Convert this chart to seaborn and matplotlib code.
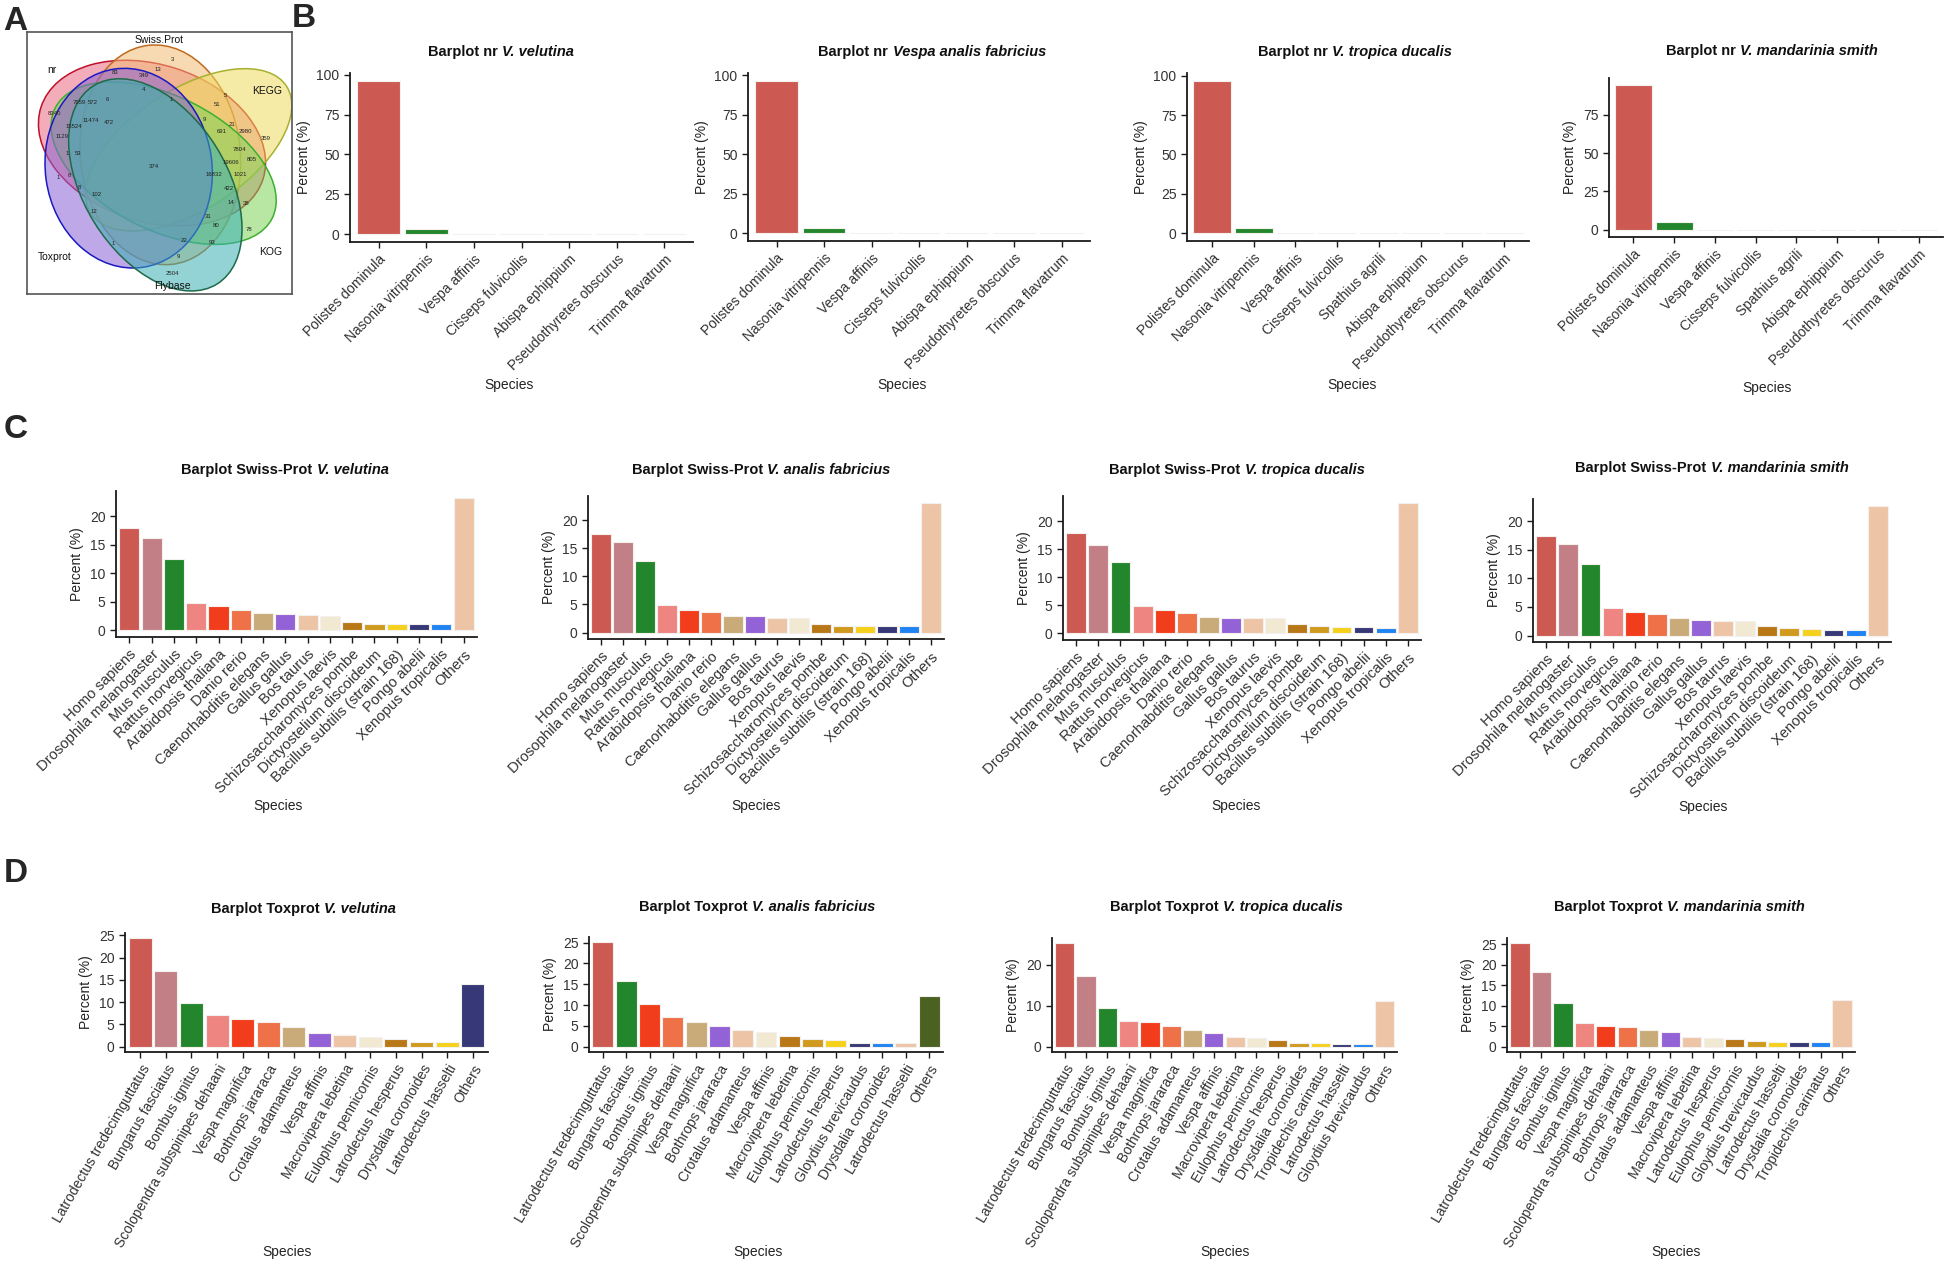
import numpy as np
import matplotlib
matplotlib.use("Agg")
import matplotlib.pyplot as plt
import seaborn as sns
from matplotlib.patches import Ellipse
from matplotlib.colors import to_rgba
from matplotlib.ticker import MultipleLocator

W, H = 1946, 1264

# ---------------- data ----------------
# colours used by the bars
RED = "#CD5A52"; ROSY = "#C27F86"; GREEN = "#23862C"; CORAL = "#EE8580"
REDOR = "#F23D1C"; ORANGE = "#EE7148"; TAN = "#C8AB78"; PURPLE = "#9362D6"
PEACH = "#EEC4A6"; CREAM = "#F1E9D2"; BROWN = "#B97818"; GOLDR = "#CF9A1E"
GOLD = "#F5D11C"; NAVY = "#363878"; BLUE = "#1F83F3"; OLIVE = "#4A6121"

# panel B (nr)
nr_species7 = ["Polistes dominula", "Nasonia vitripennis", "Vespa affinis", "Cisseps fulvicollis",
               "Abispa ephippium", "Pseudothyretes obscurus", "Trimma flavatrum"]
nr_species8 = ["Polistes dominula", "Nasonia vitripennis", "Vespa affinis", "Cisseps fulvicollis",
               "Spathius agrili", "Abispa ephippium", "Pseudothyretes obscurus", "Trimma flavatrum"]
nr_velutina = [96.2, 3.4, 0, 0, 0, 0, 0]
nr_analis = [96.6, 3.2, 0, 0, 0, 0, 0]
nr_tropica = [96.8, 3.4, 0, 0, 0, 0, 0, 0]
nr_mandarinia = [94.3, 5.2, 0, 0, 0, 0, 0, 0]
nr_colors7 = [RED, GREEN, CORAL, REDOR, ORANGE, TAN, PURPLE]
nr_colors8 = [RED, GREEN, CORAL, REDOR, ORANGE, TAN, PURPLE, PEACH]

# panel C (Swiss-Prot)
sp_species = ["Homo sapiens", "Drosophila melanogaster", "Mus musculus", "Rattus norvegicus",
              "Arabidopsis thaliana", "Danio rerio", "Caenorhabditis elegans", "Gallus gallus",
              "Bos taurus", "Xenopus laevis", "Schizosaccharomyces pombe", "Dictyostelium discoideum",
              "Bacillus subtilis (strain 168)", "Pongo abelii", "Xenopus tropicalis", "Others"]
sp_velutina = [17.9, 16.2, 12.6, 4.8, 4.2, 3.6, 3.1, 2.9, 2.7, 2.6, 1.5, 1.2, 1.2, 1.1, 1.1, 23.3]
sp_analis = [17.6, 16.2, 12.7, 4.9, 4.1, 3.7, 3.0, 3.0, 2.6, 2.6, 1.6, 1.2, 1.2, 1.1, 1.1, 23.2]
sp_tropica = [17.9, 15.8, 12.7, 4.8, 4.1, 3.7, 3.0, 2.8, 2.7, 2.7, 1.6, 1.3, 1.2, 1.1, 1.0, 23.3]
sp_mandarinia = [17.5, 16.1, 12.5, 4.9, 4.2, 3.7, 3.0, 2.8, 2.6, 2.5, 1.6, 1.3, 1.1, 1.05, 0.95, 22.8]
sp_colors = [RED, ROSY, GREEN, CORAL, REDOR, ORANGE, TAN, PURPLE, PEACH, CREAM,
             BROWN, GOLDR, GOLD, NAVY, BLUE, PEACH]

# panel D (Toxprot)
tx_species_velutina = ["Latrodectus tredecimguttatus", "Bungarus fasciatus", "Bombus ignitus",
                       "Scolopendra subspinipes dehaani", "Vespa magnifica", "Bothrops jararaca",
                       "Crotalus adamanteus", "Vespa affinis", "Macrovipera lebetina",
                       "Eulophus pennicornis", "Latrodectus hesperus", "Drysdalia coronoides",
                       "Latrodectus hasselti", "Others"]
tx_velutina = [24.3, 17.0, 9.85, 7.0, 6.3, 5.5, 4.4, 3.0, 2.6, 2.2, 1.8, 1.0, 0.97, 14.1]
tx_colors_velutina = [RED, ROSY, GREEN, CORAL, REDOR, ORANGE, TAN, PURPLE, PEACH, CREAM,
                      BROWN, GOLDR, GOLD, NAVY]

tx_species_analis = ["Latrodectus tredecimguttatus", "Bungarus fasciatus", "Bombus ignitus",
                     "Scolopendra subspinipes dehaani", "Vespa magnifica", "Bothrops jararaca",
                     "Crotalus adamanteus", "Vespa affinis", "Macrovipera lebetina",
                     "Eulophus pennicornis", "Latrodectus hesperus", "Gloydius brevicaudus",
                     "Drysdalia coronoides", "Latrodectus hasselti", "Others"]
tx_analis = [25.1, 15.8, 10.35, 7.2, 5.9, 5.1, 4.1, 3.5, 2.5, 1.9, 1.7, 1.0, 0.95, 0.9, 12.2]
tx_colors_analis = [RED, GREEN, REDOR, ORANGE, TAN, PURPLE, PEACH, CREAM, BROWN, GOLDR,
                    GOLD, NAVY, BLUE, PEACH, OLIVE]

tx_species_tropica = ["Latrodectus tredecimguttatus", "Bungarus fasciatus", "Bombus ignitus",
                      "Scolopendra subspinipes dehaani", "Vespa magnifica", "Bothrops jararaca",
                      "Crotalus adamanteus", "Vespa affinis", "Macrovipera lebetina",
                      "Eulophus pennicornis", "Latrodectus hesperus", "Drysdalia coronoides",
                      "Tropidechis carinatus", "Latrodectus hasselti", "Gloydius brevicaudus", "Others"]
tx_tropica = [25.3, 17.2, 9.5, 6.4, 6.1, 5.1, 4.2, 3.3, 2.5, 2.1, 1.6, 1.0, 1.0, 0.8, 0.8, 11.1]

tx_species_mandarinia = ["Latrodectus tredecimguttatus", "Bungarus fasciatus", "Bombus ignitus",
                         "Vespa magnifica", "Scolopendra subspinipes dehaani", "Bothrops jararaca",
                         "Crotalus adamanteus", "Vespa affinis", "Macrovipera lebetina",
                         "Latrodectus hesperus", "Eulophus pennicornis", "Gloydius brevicaudus",
                         "Latrodectus hasselti", "Drysdalia coronoides", "Tropidechis carinatus", "Others"]
tx_mandarinia = [25.2, 18.3, 10.7, 5.9, 5.1, 4.8, 4.0, 3.6, 2.4, 2.1, 1.9, 1.3, 1.2, 1.1, 1.1, 11.5]
tx_colors16 = [RED, ROSY, GREEN, CORAL, REDOR, ORANGE, TAN, PURPLE, PEACH, CREAM,
               BROWN, GOLDR, GOLD, NAVY, BLUE, PEACH]

# panel A (Venn) counts
venn_sets = ["nr", "Swiss.Prot", "KEGG", "KOG", "Toxprot", "Flybase"]
venn_counts = [3, 83, 349, 13, 4, 1, 5, 51, 7659, 572, 6, 8340, 15524, 11474, 472, 9, 21, 691,
               2980, 359, 1129, 1, 53, 7804, 19606, 805, 374, 16832, 1021, 1, 8, 8, 102, 422,
               14, 38, 12, 31, 80, 78, 1, 22, 93, 9, 2504]

# ---------------- layout ----------------
venn_xy = [(517, 178), (345, 218), (430, 228), (473, 210), (430, 268), (512, 298), (675, 287),
           (650, 313), (237, 308), (277, 308), (322, 298), (163, 340), (222, 380), (270, 362),
           (325, 368), (612, 360), (695, 375), (664, 396), (735, 394), (795, 415), (185, 410),
           (200, 462), (233, 462), (717, 449), (693, 489), (755, 480), (460, 500), (640, 523),
           (720, 523), (175, 532), (207, 528), (238, 562), (288, 585), (685, 565), (693, 608),
           (737, 610), (280, 635), (625, 650), (646, 677), (745, 690), (340, 730), (552, 723),
           (635, 727), (535, 770), (515, 822)]
venn_label_xy = [(155, 210), (477, 120), (800, 275), (810, 755), (162, 772), (517, 857)]
venn_fill = ["#EA6A82", "#F2BC74", "#EEDB5E", "#7ED458", "#8A62D4", "#3AAFB4"]
venn_edge = ["#C0102A", "#C06A20", "#A8B030", "#3CB030", "#1A1AC0", "#1E6A4A"]
venn_shape = [((455, 430), 700, 470, 18), ((480, 465), 480, 660, -6),
              ((565, 450), 700, 360, -33), ((490, 490), 730, 400, 27),
              ((385, 505), 500, 600, -8), ((465, 555), 700, 430, 58)]

# species-label centres (px) under each panel
sp_lab_b = [(509, 385), (902, 385), (1352, 385), (1767, 388)]
sp_lab_c = [(278, 806), (756, 806), (1236, 806), (1703, 807)]
sp_lab_d = [(287, 1252), (758, 1252), (1225, 1252), (1676, 1252)]

sns.set_style("ticks")
plt.rcParams["font.family"] = ["Liberation Sans", "DejaVu Sans"]

fig = plt.figure(figsize=(W / 100, H / 100), dpi=100)


def rect(l, r, t, b):
    return [l / W, 1 - b / H, (r - l) / W, (b - t) / H]


def mixed_title(cx, cy, plain, ital, size=10.5):
    t1 = fig.text(0, 0, plain, fontsize=size, fontweight="bold", color="#111111",
                  ha="left", va="center")
    t2 = fig.text(0, 0, ital, fontsize=size, fontweight="bold", fontstyle="italic",
                  color="#111111", ha="left", va="center")
    rend = fig.canvas.get_renderer()
    w1 = t1.get_window_extent(rend).width
    w2 = t2.get_window_extent(rend).width
    gap = size * 1.389 * 0.3
    x0 = cx - (w1 + gap + w2) / 2
    t1.set_position((x0 / W, 1 - cy / H))
    t2.set_position(((x0 + w1 + gap) / W, 1 - cy / H))


def bar_panel(box, species, values, colors, plain, ital, tcenter, lab, rot, step, fs=10):
    l, r, t, b = box
    ax = fig.add_axes(rect(*box))
    sns.barplot(x=species, y=values, hue=species, palette=colors, legend=False,
                saturation=1, width=0.9, edgecolor="#f4f0ee", linewidth=0.8, ax=ax)
    n = len(species)
    top = max(values)
    ax.set_xlim(-0.6, n - 0.4)
    ax.set_ylim(-0.05 * top, 1.05 * top)
    ax.yaxis.set_major_locator(MultipleLocator(step))
    sns.despine(ax=ax)
    for s in ["left", "bottom"]:
        ax.spines[s].set_color("#1a1a1a")
        ax.spines[s].set_linewidth(1.3)
    ax.tick_params(axis="both", length=4, width=1, color="#1a1a1a",
                   labelsize=fs, labelcolor="#333333")
    ax.tick_params(axis="y", labelsize=10)
    ax.set_xticks(range(n))
    ax.set_xticklabels(species, rotation=rot, ha="right", rotation_mode="anchor")
    ax.set_xlabel("Species", fontsize=10, color="#222222")
    ax.xaxis.label.set_va("center")
    ax.xaxis.set_label_coords((lab[0] - l) / (r - l), -(lab[1] - b) / (b - t))
    ax.set_ylabel("Percent (%)", fontsize=10, color="#222222", labelpad=4)
    mixed_title(tcenter[0], tcenter[1], plain, ital)
    return ax


# ---------------- panel A: Venn ----------------
axv = fig.add_axes(rect(27, 292, 32, 294))
axv.set_xlim(80, 875)
axv.set_ylim(882, 97)
for (c, w, h, a), fc, ec in zip(venn_shape, venn_fill, venn_edge):
    axv.add_patch(Ellipse(c, w, h, angle=a, facecolor=to_rgba(fc, 0.55),
                          edgecolor=ec, linewidth=1.1))
for cnt, (x, y) in zip(venn_counts, venn_xy):
    axv.text(x, y, str(cnt), fontsize=4.3, ha="center", va="center", color="#222222")
for name, (x, y) in zip(venn_sets, venn_label_xy):
    axv.text(x, y, name, fontsize=7.5, ha="center", va="center", color="#111111")
axv.set_xticks([])
axv.set_yticks([])
for s in axv.spines.values():
    s.set_color("#555555")
    s.set_linewidth(1.2)

# ---------------- panel B ----------------
bar_panel((350, 693, 73, 242), nr_species7, nr_velutina, nr_colors7,
          "Barplot nr", "V. velutina", (501, 52), sp_lab_b[0], 45, 25)
bar_panel((748, 1090, 73, 241), nr_species7, nr_analis, nr_colors7,
          "Barplot nr", "Vespa analis fabricius", (932, 52), sp_lab_b[1], 45, 25)
bar_panel((1187, 1529, 73, 241), nr_species8, nr_tropica, nr_colors8,
          "Barplot nr", "V. tropica ducalis", (1355, 52), sp_lab_b[2], 45, 25)
bar_panel((1609, 1943, 78, 237), nr_species8, nr_mandarinia, nr_colors8,
          "Barplot nr", "V. mandarinia smith", (1772, 51), sp_lab_b[3], 45, 25)

# ---------------- panel C ----------------
bar_panel((116, 477, 491, 637), sp_species, sp_velutina, sp_colors,
          "Barplot Swiss-Prot", "V. velutina", (285, 470), sp_lab_c[0], 45, 5, 10.6)
bar_panel((588, 944, 496, 639), sp_species, sp_analis, sp_colors,
          "Barplot Swiss-Prot", "V. analis fabricius", (761, 470), sp_lab_c[1], 45, 5, 10.6)
bar_panel((1063, 1421, 496, 640), sp_species, sp_tropica, sp_colors,
          "Barplot Swiss-Prot", "V. tropica ducalis", (1237, 470), sp_lab_c[2], 45, 5, 10.6)
bar_panel((1533, 1891, 499, 642), sp_species, sp_mandarinia, sp_colors,
          "Barplot Swiss-Prot", "V. mandarinia smith", (1712, 468), sp_lab_c[3], 45, 5, 10.6)

# ---------------- panel D ----------------
bar_panel((125, 488, 933, 1052), tx_species_velutina, tx_velutina, tx_colors_velutina,
          "Barplot Toxprot", "V. velutina", (303, 909), sp_lab_d[0], 60, 5)
bar_panel((589, 943, 937, 1052), tx_species_analis, tx_analis, tx_colors_analis,
          "Barplot Toxprot", "V. analis fabricius", (757, 907), sp_lab_d[1], 60, 5)
bar_panel((1052, 1397, 938, 1052), tx_species_tropica, tx_tropica, tx_colors16,
          "Barplot Toxprot", "V. tropica ducalis", (1226, 907), sp_lab_d[2], 60, 10)
bar_panel((1507, 1855, 938, 1052), tx_species_mandarinia, tx_mandarinia, tx_colors16,
          "Barplot Toxprot", "V. mandarinia smith", (1679, 907), sp_lab_d[3], 60, 5)

# panel letters
for letter, (x, y) in zip("ABCD", [(3, 6), (292, 3), (4, 414), (4, 858)]):
    fig.text(x / W, 1 - y / H, letter, fontsize=24, fontweight="bold", ha="left", va="top")

fig.savefig("out.png", dpi=100)
